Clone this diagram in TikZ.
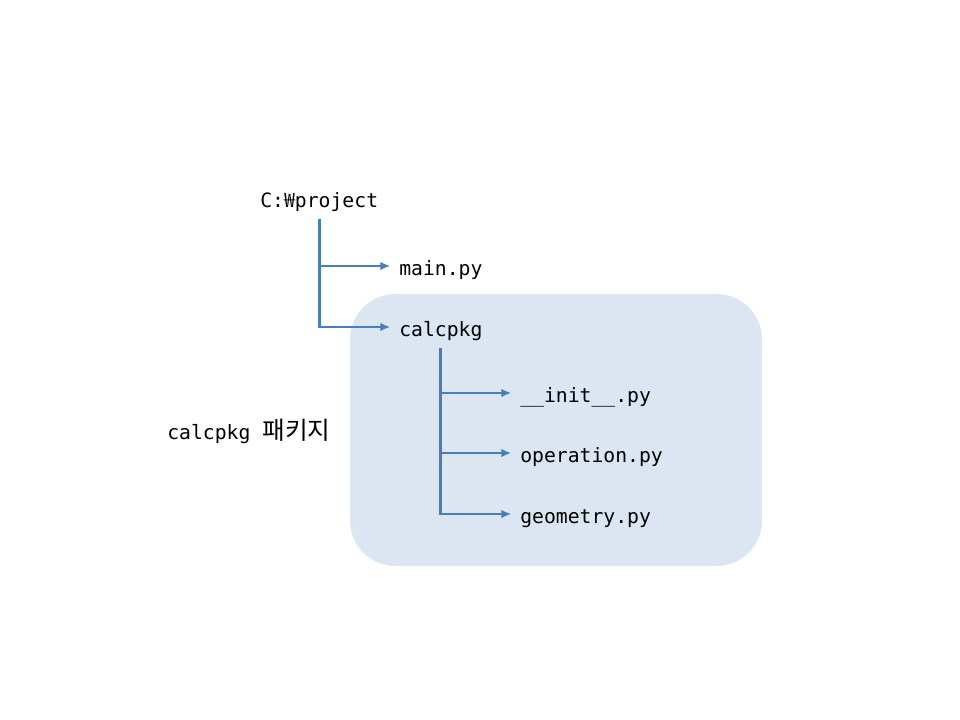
\documentclass[tikz,border=0pt]{standalone}
\usepackage{fontspec}
\setmainfont{DejaVu Sans Mono}
\newfontfamily\krfont[Scale=1.25]{Noto Sans CJK KR}
\newfontfamily\wonfont{Noto Sans CJK KR}
\usetikzlibrary{arrows.meta}
\definecolor{linkblue}{HTML}{4A7EBB}
\definecolor{pkgfill}{HTML}{DCE6F2}

\begin{document}
\begin{tikzpicture}[x=0.75pt, y=-0.75pt,
  file/.style = {anchor = west, inner sep = 0pt, text height = 17.5pt, text depth = 3pt,
    font = \fontsize{14.8pt}{17pt}\selectfont},
  branch/.style = {draw = linkblue, line width = 2.2pt, -{Latex[length=7.5pt, width=6.5pt]},
    shorten > = 6.5pt, shorten < = 5pt},
  pkgbox/.style = {fill = pkgfill, rounded corners = 34pt, minimum width = 309pt,
    minimum height = 204pt, inner sep = 0pt}]
  \useasboundingbox (0, 0) rectangle (960, 720);

  \node[pkgbox] (pkg) at (556, 430) {};

  \node[file] (root) at (260, 198) {C:{\wonfont ₩}project};
  \node[file] (main) at (399, 266) {main.py};
  \node[file] (calc) at (399, 327) {calcpkg};
  \node[file] (init) at (520, 393) {\_\_init\_\_.py};
  \node[file] (oper) at (520, 453) {operation.py};
  \node[file] (geom) at (520, 514) {geometry.py};
  \node[file] (label) at (167, 430) {calcpkg {\krfont 패키지}};

  \draw[branch] (root.south) |- (main.west);
  \draw[branch] (root.south) |- (calc.west);
  \draw[branch] (calc.south) |- (init.west);
  \draw[branch] (calc.south) |- (oper.west);
  \draw[branch] (calc.south) |- (geom.west);

\end{tikzpicture}
\end{document}
